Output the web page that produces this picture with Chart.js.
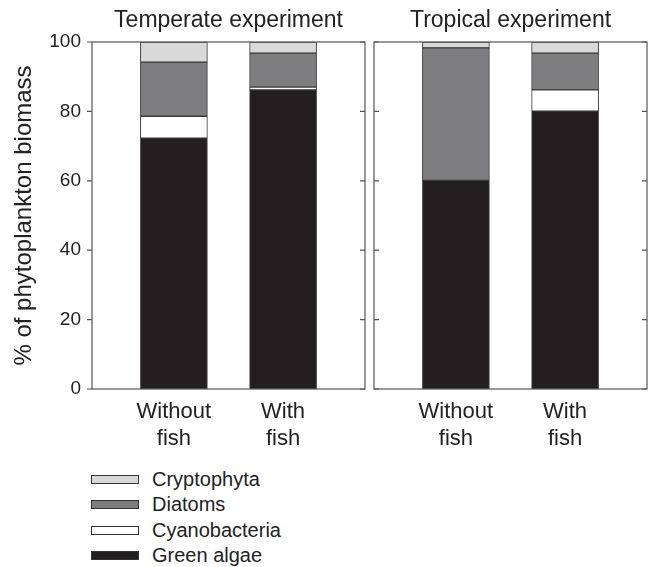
<!DOCTYPE html>
<html>
<head>
<meta charset="utf-8">
<script src="https://cdn.jsdelivr.net/npm/chart.js@4.4.0/dist/chart.umd.min.js"></script>
<style>
  body { margin: 0; background: #fff; width: 655px; height: 567px; position: relative; overflow: hidden;
         font-family: 'Liberation Sans', Arial, sans-serif; color: #222; }
  #left { position: absolute; left: 0; top: 0; }
  #right { position: absolute; left: 369px; top: 0; }
  .leg { position: absolute; left: 91px; height: 24px; display: flex; align-items: center; font-size: 20px; }
  .leg span.box { width: 46px; height: 7px; border: 1px solid #333; margin-right: 13px; }
</style>
</head>
<body>
<canvas id="left" width="370" height="460"></canvas>
<canvas id="right" width="286" height="460"></canvas>
<div id="legend"></div>
<script>
// categories and series (stacked bottom to top), % of phytoplankton biomass
const categories = [["Without", "fish"], ["With", "fish"]];
const panels = ["Temperate experiment", "Tropical experiment"];
const seriesNames = ["Green algae", "Cyanobacteria", "Diatoms", "Cryptophyta"];

const temperateGreen = [72.3, 86.2];
const temperateCyano = [6.3, 0.8];
const temperateDiatoms = [15.6, 9.8];
const temperateCrypto = [5.8, 3.2];

const tropicalGreen = [60.1, 80.1];
const tropicalCyano = [0, 6.1];
const tropicalDiatoms = [38.2, 10.6];
const tropicalCrypto = [1.7, 3.2];

const yTicks = [0, 20, 40, 60, 80, 100];

const colors = ["#231f20", "#ffffff", "#7e7e81", "#d9d9d9"];

Chart.defaults.font.family = "'Liberation Sans', Arial, sans-serif";
Chart.defaults.color = "#222";

const framePlugin = {
  id: "frame",
  afterDatasetsDraw(chart, args, opts) {
    const { ctx, chartArea: a, scales: { y } } = chart;
    ctx.save();
    ctx.strokeStyle = "#555";
    ctx.lineWidth = 1.2;
    ctx.strokeRect(a.left, a.top, a.right - a.left, a.bottom - a.top);
    ctx.beginPath();
    yTicks.forEach(v => {
      const py = y.getPixelForValue(v);
      if (opts.outLeft) {
        ctx.moveTo(a.left - 5, py); ctx.lineTo(a.left, py);
      } else {
        ctx.moveTo(a.left, py); ctx.lineTo(a.left + 5, py);
      }
      ctx.moveTo(a.right - 5, py); ctx.lineTo(a.right, py);
    });
    ctx.stroke();
    ctx.restore();
  }
};

function makeChart(id, title, series, first) {
  const datasets = series.map((vals, s) => ({
    label: seriesNames[s],
    data: vals.map((v, i) => ({ x: i, y: v })),
    backgroundColor: colors[s],
    borderColor: "#3a3a3a",
    borderWidth: 1,
    borderSkipped: false,
    barThickness: 67
  }));
  return new Chart(document.getElementById(id), {
    type: "bar",
    data: { datasets: datasets },
    plugins: [framePlugin],
    options: {
      responsive: false,
      animation: false,
      layout: { padding: { left: 0, right: first ? 5 : 8, top: 0, bottom: 0 } },
      plugins: {
        legend: { display: false },
        tooltip: { enabled: false },
        frame: { outLeft: first },
        title: {
          display: true,
          text: title,
          fullSize: false,
          font: { size: 23, weight: "normal" },
          color: "#222",
          padding: { top: 7, bottom: 7.4 }
        }
      },
      scales: {
        x: {
          type: "linear",
          stacked: true,
          offset: false,
          min: -0.75,
          max: 1.75,
          grid: { display: false, drawTicks: false },
          border: { display: false },
          afterBuildTicks: s => { s.ticks = categories.map((c, i) => ({ value: i })); },
          afterFit: s => { s.height = 71; },
          ticks: {
            autoSkip: false,
            maxRotation: 0,
            padding: 9,
            font: { size: 22, lineHeight: 1.23 },
            color: "#222",
            callback: v => categories[v]
          }
        },
        y: {
          stacked: true,
          min: 0,
          max: 100,
          grid: { display: false, drawTicks: false },
          border: { display: false },
          afterFit: s => { s.width = first ? 92 : 5; },
          title: {
            display: first,
            text: "% of phytoplankton biomass",
            font: { size: 24 },
            color: "#222",
            padding: { top: 10, bottom: 0 }
          },
          ticks: {
            display: first,
            stepSize: 20,
            padding: 11,
            font: { size: 19 },
            color: "#222"
          }
        }
      }
    }
  });
}

makeChart("left", panels[0], [temperateGreen, temperateCyano, temperateDiatoms, temperateCrypto], true);
makeChart("right", panels[1], [tropicalGreen, tropicalCyano, tropicalDiatoms, tropicalCrypto], false);

// legend, top to bottom
const legend = document.getElementById("legend");
const legendTops = [467, 492.5, 518, 543.5];
[3, 2, 1, 0].forEach((s, row) => {
  const d = document.createElement("div");
  d.className = "leg";
  d.style.top = legendTops[row] + "px";
  const box = document.createElement("span");
  box.className = "box";
  box.style.background = colors[s];
  d.appendChild(box);
  d.appendChild(document.createTextNode(seriesNames[s]));
  legend.appendChild(d);
});
</script>
</body>
</html>
